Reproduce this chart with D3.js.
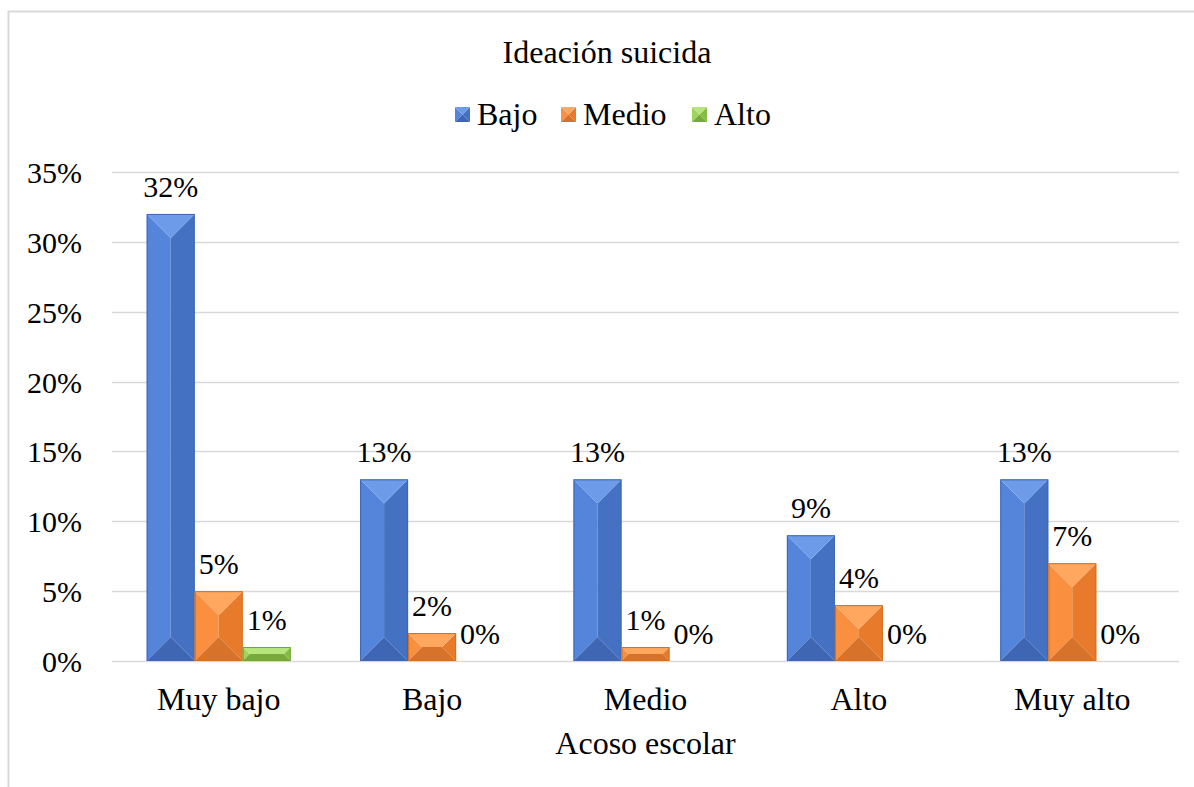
<!DOCTYPE html>
<html>
<head>
<meta charset="utf-8">
<script src="https://cdn.jsdelivr.net/npm/d3@7"></script>
<style>
  body { margin: 0; background: #fff; }
</style>
</head>
<body>
<svg id="chart" width="1194" height="787"></svg>
<script>
// data
var categories = ["Muy bajo", "Bajo", "Medio", "Alto", "Muy alto"];
var seriesNames = ["Bajo", "Medio", "Alto"];
var bajo = [32, 13, 13, 9, 13];
var medio = [5, 2, 1, 4, 7];
var alto = [1, 0, 0, 0, 0];
var yTicks = [0, 5, 10, 15, 20, 25, 30, 35];

var values = [bajo, medio, alto];
// face colours of the bevelled bars
var palettes = [
    { top: "#6d9be9", left: "#5485da", right: "#4571c3", bottom: "#3e66b2", edge: "#3f66b0" },
    { top: "#ffa75f", left: "#f98f3f", right: "#e77b2b", bottom: "#d6722a", edge: "#d2701f" },
    { top: "#b6e57c", left: "#9ed35c", right: "#86bd45", bottom: "#78a93c", edge: "#74a43a" }
];

var font = "Liberation Serif";
var svg = d3.select("#chart");

// chart frame
svg.append("rect")
    .attr("x", 8.5).attr("y", 11.5)
    .attr("width", 1300).attr("height", 900)
    .attr("fill", "none")
    .attr("stroke", "#d9d9d9")
    .attr("stroke-width", 2);

var x0 = d3.scaleBand().domain(categories).range([112, 1179]).paddingInner(0.325).paddingOuter(0.1625);
var x1 = d3.scaleBand().domain(seriesNames).range([0, x0.bandwidth()]);
var y = d3.scaleLinear().domain([0, 35]).range([661, 172]);

// grid
svg.append("g").selectAll("line")
    .data(yTicks)
    .enter()
    .append("line")
    .attr("x1", 112).attr("x2", 1179)
    .attr("y1", function (d) { return Math.round(y(d)) + 0.5 })
    .attr("y2", function (d) { return Math.round(y(d)) + 0.5 })
    .attr("stroke", "#d9d9d9")
    .attr("stroke-width", 1.5);

// y tick labels
svg.append("g").selectAll("text")
    .data(yTicks)
    .enter()
    .append("text")
    .attr("x", 82)
    .attr("y", function (d) { return y(d) + 11 })
    .attr("text-anchor", "end")
    .attr("font-family", font)
    .attr("font-size", 30)
    .text(function (d) { return d + "%" });

// bevelled bars
var bars = [];
values.forEach(function (vals, s) {
    vals.forEach(function (v, i) {
        bars.push({ s: s, cat: categories[i], v: v });
    });
});

function poly(pts) { return pts.map(function (p) { return p.join(",") }).join(" ") }

var barG = svg.append("g").selectAll("g")
    .data(bars.filter(function (d) { return d.v > 0 }))
    .enter()
    .append("g");

barG.each(function (d) {
    var g = d3.select(this);
    var bx = x0(d.cat) + x1(seriesNames[d.s]);
    var w = x1.bandwidth();
    var by = y(d.v);
    var h = y(0) - by;
    var k = Math.min(w / 2, h / 2);
    var c = palettes[d.s];
    g.append("polygon").attr("fill", c.left)
        .attr("points", poly([[bx, by], [bx + k, by + k], [bx + k, by + h - k], [bx, by + h]]));
    g.append("polygon").attr("fill", c.right)
        .attr("points", poly([[bx + w, by], [bx + w - k, by + k], [bx + w - k, by + h - k], [bx + w, by + h]]));
    if (w - 2 * k > 0.5) {
        g.append("rect").attr("fill", c.left)
            .attr("x", bx + k).attr("y", by + k).attr("width", w - 2 * k).attr("height", h - 2 * k);
    }
    g.append("polygon").attr("fill", c.top)
        .attr("points", poly([[bx, by], [bx + w, by], [bx + w - k, by + k], [bx + k, by + k]]));
    g.append("polygon").attr("fill", c.bottom)
        .attr("points", poly([[bx, by + h], [bx + w, by + h], [bx + w - k, by + h - k], [bx + k, by + h - k]]));
    g.append("rect")
        .attr("x", bx + 0.5).attr("y", by + 0.5)
        .attr("width", w - 1).attr("height", Math.max(h - 1, 0))
        .attr("fill", "none").attr("stroke", c.edge).attr("stroke-width", 1);
});

// value labels
svg.append("g").selectAll("text")
    .data(bars)
    .enter()
    .append("text")
    .attr("x", function (d) { return x0(d.cat) + x1(seriesNames[d.s]) + x1.bandwidth() / 2 })
    .attr("y", function (d) { return y(d.v) - 17 })
    .attr("text-anchor", "middle")
    .attr("font-family", font)
    .attr("font-size", 30)
    .text(function (d) { return d.v + "%" });

// category labels
svg.append("g").selectAll("text")
    .data(categories)
    .enter()
    .append("text")
    .attr("x", function (d) { return x0(d) + x0.bandwidth() / 2 })
    .attr("y", 710)
    .attr("text-anchor", "middle")
    .attr("font-family", font)
    .attr("font-size", 32)
    .text(function (d) { return d });

// axis title
svg.append("text")
    .attr("x", (112 + 1179) / 2)
    .attr("y", 754)
    .attr("text-anchor", "middle")
    .attr("font-family", font)
    .attr("font-size", 32)
    .text("Acoso escolar");

// chart title
svg.append("text")
    .attr("x", 607)
    .attr("y", 63)
    .attr("text-anchor", "middle")
    .attr("font-family", font)
    .attr("font-size", 32)
    .text("Ideación suicida");

// legend
var legendX = [455, 561, 692];
var legend = svg.append("g").selectAll("g")
    .data(seriesNames)
    .enter()
    .append("g")
    .attr("transform", function (d, i) { return "translate(" + legendX[i] + ",107)" });
legend.each(function (d, i) {
    var g = d3.select(this);
    var c = palettes[i];
    var s = 15, k = s / 2;
    g.append("polygon").attr("fill", c.left).attr("points", poly([[0, 0], [k, k], [0, s]]));
    g.append("polygon").attr("fill", c.right).attr("points", poly([[s, 0], [k, k], [s, s]]));
    g.append("polygon").attr("fill", c.top).attr("points", poly([[0, 0], [s, 0], [k, k]]));
    g.append("polygon").attr("fill", c.bottom).attr("points", poly([[0, s], [s, s], [k, k]]));
    g.append("text")
        .attr("x", 22)
        .attr("y", 18)
        .attr("font-family", font)
        .attr("font-size", 32)
        .text(d);
});
</script>
</body>
</html>
